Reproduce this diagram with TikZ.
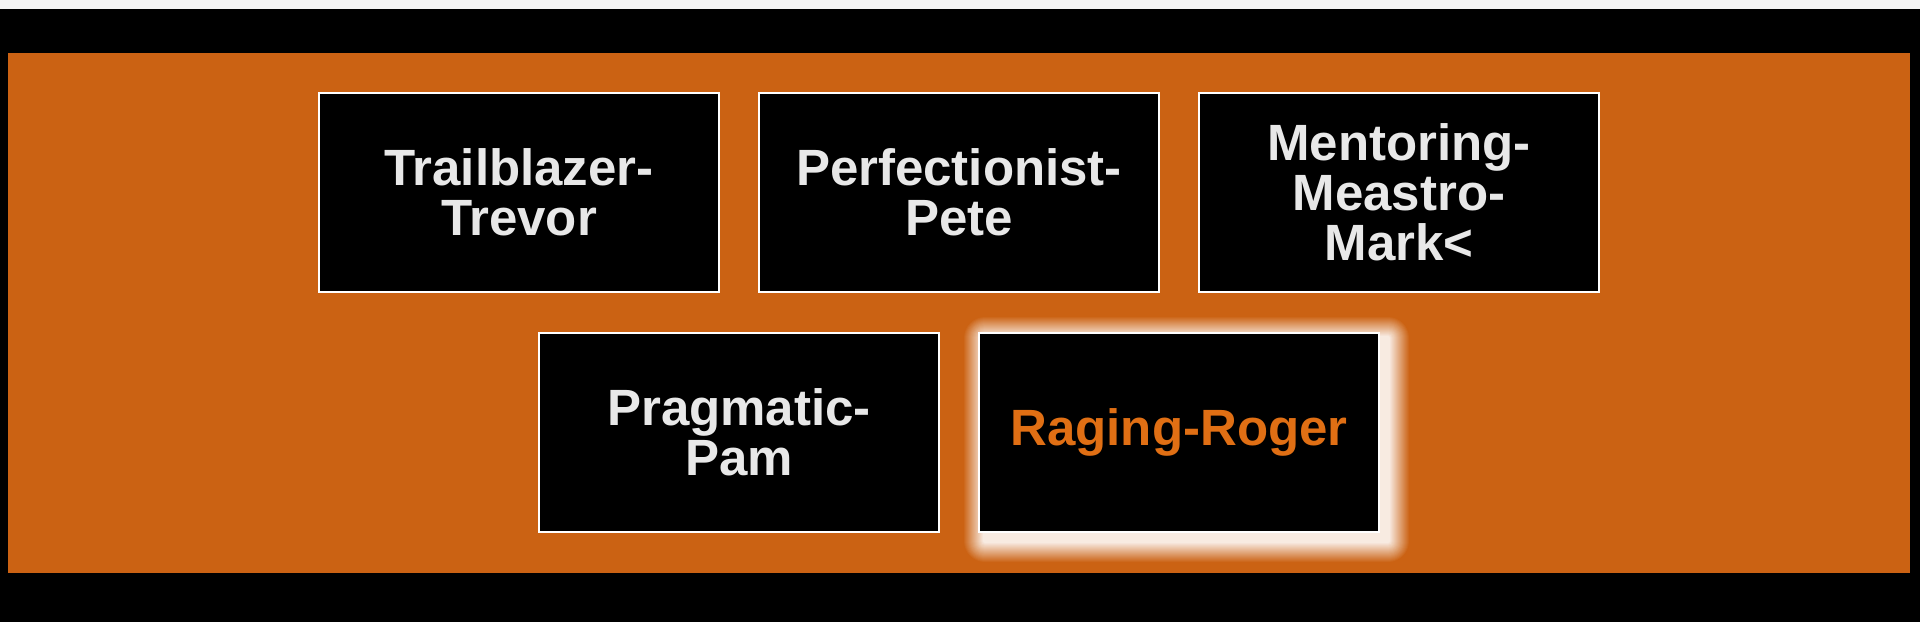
\documentclass[tikz,border=0pt]{standalone}
\usepackage{fontspec}
\setmainfont{Liberation Sans}
\definecolor{bgorange}{HTML}{CB6213}
\definecolor{topgray}{HTML}{F4F4F4}
\definecolor{txtwhite}{HTML}{E8E8E8}
\definecolor{txtorange}{HTML}{E06F14}
\definecolor{glowc}{HTML}{F8EBE1}
\tikzset{
  card/.style={draw=white, line width=2pt, fill=black, minimum width=400pt, minimum height=199pt,
    inner sep=0pt, align=center, text=txtwhite, font=\bfseries\fontsize{51}{50}\selectfont},
  hotcard/.style={card, text=txtorange}
}
\begin{document}
\begin{tikzpicture}[x=1pt,y=-1pt]
\useasboundingbox (0,0) rectangle (1920,622);
\fill[black] (0,0) rectangle (1920,622);
\fill[topgray] (0,0) rectangle (1920,9);
\fill[bgorange] (8,53) rectangle (1910,573);
% glow behind Raging-Roger
\foreach \k in {0,...,20}{
  \pgfmathsetmacro{\d}{10-\k}
  \pgfmathsetmacro{\p}{\k*5}
  \pgfmathsetmacro{\r}{max(\d+12,1)}
  \fill[glowc!\p!bgorange, rounded corners=\r pt] (973-\d,326-\d) rectangle (1400+\d,553+\d);
}
\node[card] (trevor) at (519,192.5) {Trailblazer-\\Trevor};
\node[card] (pete) at (959,192.5) {Perfectionist-\\Pete};
\node[card] (mark) at (1399,192.5) {Mentoring-\\Meastro-\\Mark<};
\node[card] (pam) at (739,432.5) {Pragmatic-\\Pam};
\node[hotcard] (roger) at (1179,432.5) {Raging-Roger};
\end{tikzpicture}
\end{document}
